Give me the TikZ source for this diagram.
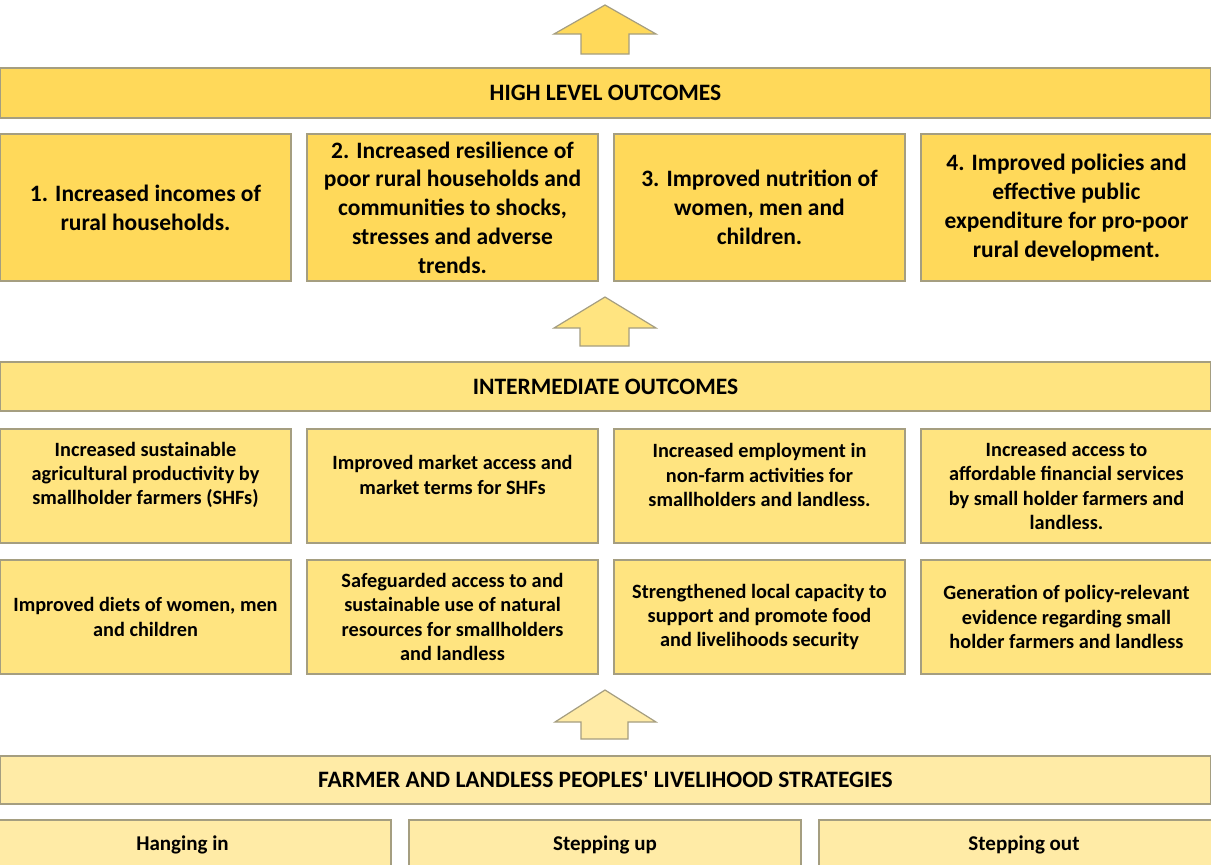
\documentclass[tikz,border=0pt]{standalone}
\usepackage{fontspec}
\setmainfont{Carlito}[Ligatures=TeXOff]
\usepackage{tikz}

\definecolor{hlyellow}{RGB}{255,217,90}
\definecolor{imyellow}{RGB}{255,228,128}
\definecolor{lsyellow}{RGB}{255,235,166}
\definecolor{edgegray}{RGB}{165,158,128}

\tikzset{
  box/.style={rectangle,draw=edgegray,line width=1.2pt,inner sep=0pt,align=center,font=\bfseries},
  hlbar/.style={box,fill=hlyellow,minimum width=1211pt,minimum height=50pt,font=\bfseries\fontsize{23.5}{27}\selectfont},
  imbar/.style={box,fill=imyellow,minimum width=1211pt,minimum height=49pt,font=\bfseries\fontsize{23.5}{27}\selectfont},
  lsbar/.style={box,fill=lsyellow,minimum width=1211pt,minimum height=48pt,font=\bfseries\fontsize{23.5}{27}\selectfont},
  hlbox/.style={box,fill=hlyellow,minimum width=291pt,minimum height=147pt,font=\bfseries\fontsize{23.5}{28.8}\selectfont},
  imbox/.style={box,fill=imyellow,minimum width=291pt,minimum height=114pt},
  imtxt/.style={align=center,inner sep=0pt,font=\bfseries\fontsize{20.3}{24.3}\selectfont},
  lsbox/.style={box,fill=lsyellow,minimum height=50pt,font=\bfseries\fontsize{21}{24}\selectfont},
  blockarrow/.style={draw=edgegray,line width=1.2pt,line join=miter}
}

\begin{document}
\begin{tikzpicture}[x=1pt,y=-1pt]
  \useasboundingbox[fill=white] (0,0) rectangle (1211,865);

  % arrow on top
  \draw[blockarrow,fill=hlyellow] (605,5) -- (656,34) -- (629,34) -- (629,54) -- (581,54) -- (581,34) -- (554,34) -- cycle;

  % high level outcomes
  \node[hlbar] (hl) at (605.5,93) {HIGH LEVEL OUTCOMES};
  \node[hlbox] (hl1) at (145.5,207.5) {1. Increased incomes of\\rural households.};
  \node[hlbox] (hl2) at (452.5,207.5) {2. Increased resilience of\\poor rural households and\\communities to shocks,\\stresses and adverse\\trends.};
  \node[hlbox] (hl3) at (759.5,207.5) {3. Improved nutrition of\\women, men and\\children.};
  \node[hlbox] (hl4) at (1066.5,207.5) {4. Improved policies and\\effective public\\expenditure for pro-poor\\rural development.};

  \draw[blockarrow,fill=imyellow] (605,297) -- (656,328) -- (629,328) -- (629,346) -- (580,346) -- (580,328) -- (554,328) -- cycle;

  % intermediate outcomes
  \node[imbar] (im) at (605.5,386.5) {INTERMEDIATE OUTCOMES};
  \node[imbox] (im1) at (145.5,486) {};
  \node[imbox] (im2) at (452.5,486) {};
  \node[imbox] (im3) at (759.5,486) {};
  \node[imbox] (im4) at (1066.5,486) {};
  \node[imbox] (im5) at (145.5,617) {};
  \node[imbox] (im6) at (452.5,617) {};
  \node[imbox] (im7) at (759.5,617) {};
  \node[imbox] (im8) at (1066.5,617) {};
  \node[imtxt] at ([yshift=11pt]im1.center) {Increased sustainable\\agricultural productivity by\\smallholder farmers (SHFs)};
  \node[imtxt] at ([yshift=11pt]im2.center) {Improved market access and\\market terms for SHFs};
  \node[imtxt] at ([yshift=11pt]im3.center) {Increased employment in\\non-farm activities for\\smallholders and landless.};
  \node[imtxt] at (im4.center) {Increased access to\\affordable financial services\\by small holder farmers and\\landless.};
  \node[imtxt] at (im5.center) {Improved diets of women, men\\and children};
  \node[imtxt] at (im6.center) {Safeguarded access to and\\sustainable use of natural\\resources for smallholders\\and landless};
  \node[imtxt] at (im7.center) {Strengthened local capacity to\\support and promote food\\and livelihoods security};
  \node[imtxt] at (im8.center) {Generation of policy-relevant\\evidence regarding small\\holder farmers and landless};

  \draw[blockarrow,fill=lsyellow] (605,690) -- (656,722) -- (628,722) -- (628,739) -- (581,739) -- (581,722) -- (555,722) -- cycle;

  % livelihood strategies
  \node[lsbar] (ls) at (605.5,780) {FARMER AND LANDLESS PEOPLES' LIVELIHOOD STRATEGIES};
  \node[lsbox,minimum width=417pt] (ls1) at (182.5,845) {Hanging in};
  \node[lsbox,minimum width=392pt] (ls2) at (605,845) {Stepping up};
  \node[lsbox,minimum width=410pt] (ls3) at (1024,845) {Stepping out};
\end{tikzpicture}
\end{document}
